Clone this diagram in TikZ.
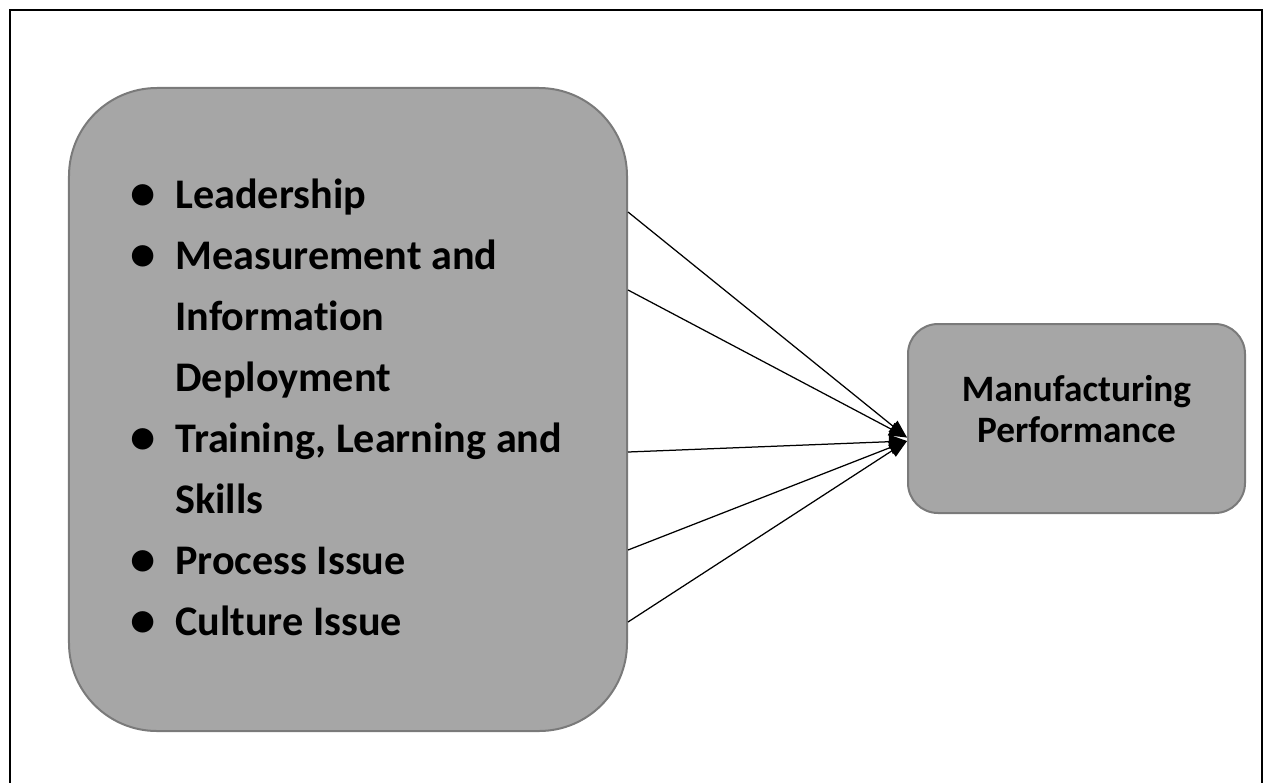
\documentclass[tikz,border=0pt]{standalone}
\usepackage{fontspec}
\setmainfont{Carlito}[Ligatures=NoCommon]
\usetikzlibrary{arrows.meta}
\definecolor{boxfill}{HTML}{A6A6A6}
\definecolor{boxline}{HTML}{7A7A7A}
\newcommand{\blt}{\llap{\raisebox{-0.3mm}{\scalebox{1.2}{\textbullet}}\hspace{4mm}}}
\tikzset{
  factorbox/.style={draw=boxline, fill=boxfill, line width=0.4mm, rounded corners=17.6mm,
    minimum width=111.6mm, minimum height=128.6mm},
  outcomebox/.style={draw=boxline, fill=boxfill, line width=0.4mm, rounded corners=6mm,
    minimum width=67.4mm, minimum height=37.8mm, align=center,
    font=\fontsize{21.2}{22.8}\selectfont\bfseries, text height=9.4mm, text depth=0mm},
  itemtxt/.style={align=left, inner sep=0pt, font=\fontsize{24}{34.7}\selectfont\bfseries},
  link/.style={-{Triangle[length=3.6mm,width=2.8mm]}, line width=0.25mm}
}
\begin{document}
\begin{tikzpicture}[x=0.2mm, y=-0.2mm]
    \useasboundingbox (0,0) rectangle (1264,783);
    \clip (0,0) rectangle (1264,783);
    % outer frame
    \draw[line width=0.45mm] (10,800) -- (10,10) -- (1262,10) -- (1262,800);
    % factors
    \node[factorbox] (lbox) at (348,409.5) {};
    \node[itemtxt, anchor=base west] (items) at (175,635) {\blt Leadership\\
      \blt Measurement and\\ Information\\ Deployment\\
      \blt Training, Learning and\\ Skills\\
      \blt Process Issue\\ \blt Culture Issue};
    % outcome
    \node[outcomebox] (mp) at (1076.5,418.5) {Manufacturing\\Performance};
    % links
    \foreach \s/\e in {39.5/-3.8, 23.9/-3.8, -8.5/-4.5, -28.1/-4.5, -42.5/-4.5}
      \draw[link] ([yshift=\s mm]lbox.east) -- ([yshift=\e mm]mp.west);
\end{tikzpicture}
\end{document}
